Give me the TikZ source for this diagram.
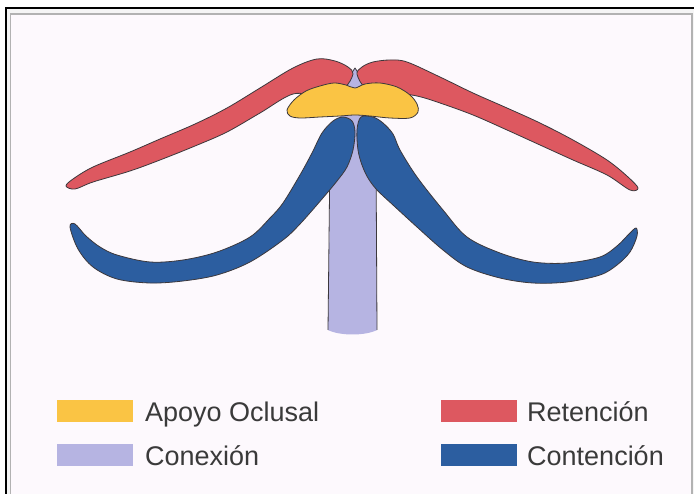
\documentclass[tikz,border=0pt]{standalone}
\usepackage{fontspec}
\setmainfont{Liberation Sans}
\definecolor{apoyo}{RGB}{250,196,68}
\definecolor{reten}{RGB}{221,88,96}
\definecolor{conten}{RGB}{44,94,160}
\definecolor{conex}{RGB}{182,180,226}
\definecolor{edge}{RGB}{60,56,60}
\definecolor{paper}{RGB}{253,249,253}
\definecolor{labeltext}{RGB}{58,58,58}
\begin{document}
\begin{tikzpicture}[x=1pt,y=-1pt,
  part/.style={draw=edge,line width=0.8pt,line join=round},
  swatch/.style={inner sep=0pt,minimum width=76pt,minimum height=22pt,anchor=north west},
  legtext/.style={anchor=base west,inner sep=0pt,font=\fontsize{27}{30}\selectfont,text=labeltext}]
\useasboundingbox (0,0) rectangle (694,494);
% frame
\fill[white] (0,0) rectangle (694,494);
\fill[gray!8] (6,8) rectangle (694,494);
\fill[paper] (10.5,14) rectangle (692,494);
\draw[black,line width=2pt] (6,494) -- (6,8) -- (694,8);
\draw[gray!60,line width=1.5pt] (10.5,494) -- (10.5,14) -- (692,14) -- (692,494);

% connector bar
\fill[conex] (341,108) -- (372,108) -- (376,190) -- (377,330)
   .. controls (365,336) and (340,336) .. (328,330) -- (330,190) -- cycle;
\draw[edge,line width=0.8pt] (376,150) -- (377,330);
\draw[edge,line width=0.8pt] (330,150) -- (328,330);
% small top connector piece
\filldraw[part,fill=conex] (355,68) -- (338,94) -- (372,94) -- cycle;

% retention arms
\filldraw[part,fill=reten] plot[smooth cycle,tension=0.55] coordinates {
  (66,186) (73,179) (93,167) (130,152) (160,139) (195,124) (227,108)
  (260,88) (293,68) (317,59) (335,61) (348,67) (353,74) (344,88) (320,96)
  (293,94) (260,113) (227,132) (195,146) (160,160) (130,171) (93,182)
  (75,189)};
\filldraw[part,fill=reten] plot[smooth cycle,tension=0.55] coordinates {
  (357,74) (362,67) (373,62) (390,60) (407,62) (440,77) (473,93) (507,108)
  (540,123) (573,140) (607,160) (628,177) (638,188) (630,190) (607,175)
  (573,160) (540,145) (507,130) (473,115) (440,103) (417,96) (390,92) (366,88)};

% containment arms
\filldraw[part,fill=conten] plot[smooth cycle,tension=0.55] coordinates {
  (343,117) (352,121) (355,132) (353,150) (347,167) (337,181) (322,199)
  (300,224) (283,240) (250,262) (217,275) (183,281) (150,283) (117,279)
  (93,267) (78,249) (70,227) (75,224) (86,236) (100,247) (117,255) (150,262)
  (183,260) (217,252) (250,237) (270,218) (283,203) (300,175) (312,153)
  (322,133) (333,121)};
\filldraw[part,fill=conten] plot[smooth cycle,tension=0.55] coordinates {
  (361,117) (373,117) (383,123) (393,134) (400,150) (417,177) (443,210)
  (467,237) (500,253) (533,262) (567,263) (600,257) (617,246) (629,234)
  (636,228) (637,236) (630,252) (617,265) (600,275) (567,282) (533,283)
  (500,278) (467,267) (443,250) (417,227) (393,205) (377,190) (368,178)
  (362,165) (358,150) (357,130)};

% occlusal rest
\filldraw[part,fill=apoyo] plot[smooth cycle,tension=0.55] coordinates {
  (287,110) (294,100) (306,91) (320,86) (334,83) (346,85) (355,88) (365,84)
  (380,83) (397,87) (410,95) (417,104) (418,112) (410,118) (390,118)
  (370,116) (355,115) (340,116) (320,117) (300,118) (290,116)};

% legend
\node[swatch,fill=apoyo] (swA) at (57,400) {};
\node[legtext] (lbA) at (145,421) {Apoyo Oclusal};
\node[swatch,fill=conex] (swC) at (57,444) {};
\node[legtext] (lbC) at (145,465) {Conexión};
\node[swatch,fill=reten] (swR) at (441,400) {};
\node[legtext] (lbR) at (527,421) {Retención};
\node[swatch,fill=conten] (swT) at (441,444) {};
\node[legtext] (lbT) at (527,465) {Contención};
\end{tikzpicture}
\end{document}
